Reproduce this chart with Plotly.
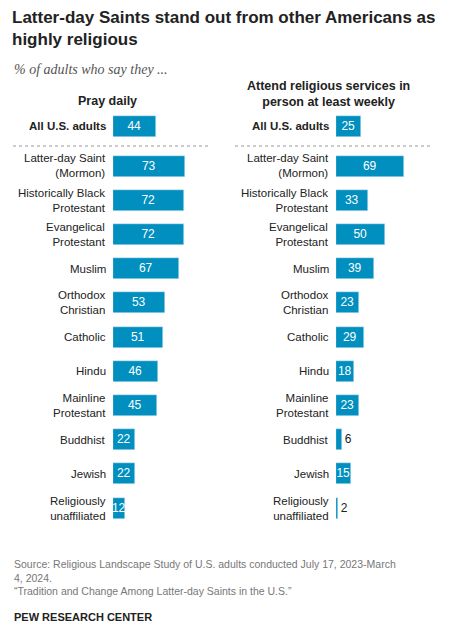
import plotly.graph_objects as go

groups = ["All U.S. adults", "Latter-day Saint<br>(Mormon)", "Historically Black<br>Protestant",
          "Evangelical<br>Protestant", "Muslim", "Orthodox<br>Christian", "Catholic", "Hindu",
          "Mainline<br>Protestant", "Buddhist", "Jewish", "Religiously<br>unaffiliated"]
pray = [44, 73, 72, 72, 67, 53, 51, 46, 45, 22, 22, 12]
attend = [25, 69, 33, 50, 39, 23, 29, 18, 23, 6, 15, 2]

OFF = 8  # page body margin
W, H = 451 - 2 * OFF, 631 - 2 * OFF
BLUE = "#008fbf"
FONT = "Liberation Sans"
rows = [126] + [166 + 34.2 * i for i in range(len(groups) - 1)]
rows = [r - OFF for r in rows]

def px(x):
    return (x - OFF) / W

def py(y):
    return 1 - (y - OFF) / H

fig = go.Figure()
panels = [(pray, "x", "y"), (attend, "x2", "y2")]
for vals, xa, ya in panels:
    fig.add_trace(go.Bar(
        x=vals, y=rows, orientation="h", width=21, marker_color=BLUE,
        text=[str(v) for v in vals],
        textposition=["inside" if v >= 10 else "outside" for v in vals],
        textangle=0,
        insidetextanchor="middle", constraintext="none", cliponaxis=False,
        insidetextfont=dict(color="white", size=12, family=FONT),
        outsidetextfont=dict(color="#222", size=12, family=FONT),
        xaxis=xa, yaxis=ya, showlegend=False, hoverinfo="skip"))

axis_common = dict(showgrid=False, zeroline=False, showticklabels=False, fixedrange=True)
fig.update_layout(
    width=W, height=H, margin=dict(l=0, r=0, t=0, b=0),
    paper_bgcolor="white", plot_bgcolor="rgba(0,0,0,0)",
    xaxis=dict(domain=[px(113), px(211)], range=[0, 100], **axis_common),
    xaxis2=dict(domain=[px(336), px(434)], range=[0, 100], **axis_common),
    yaxis=dict(domain=[0, 1], range=[H, 0], **axis_common),
    yaxis2=dict(domain=[0, 1], range=[H, 0], anchor="x2", **axis_common),
    bargap=0,
)

ann = []
def A(text, x, y, size=11, color="#222", xanchor="left", yanchor="top", bold=False, family=FONT, align="left"):
    if bold:
        text = "<b>" + text + "</b>"
    ann.append(dict(text=text, x=px(x), y=py(y), xref="paper", yref="paper", showarrow=False,
                    xanchor=xanchor, yanchor=yanchor, align=align,
                    font=dict(size=size, color=color, family=family)))

A("Latter-day Saints stand out from other Americans as<br>highly religious", 10, 6, size=17, bold=True)
A("<i>% of adults who say they ...</i>", 12, 60, size=14, color="#555", family="Liberation Serif")
A("Pray daily", 107, 101, size=12.5, xanchor="center", yanchor="middle", bold=True)
A("Attend religious services in<br>person at least weekly", 328, 94, size=12.5, xanchor="center",
  yanchor="middle", bold=True, align="center")

for lx in (108, 331):
    for i, (g, yv) in enumerate(zip(groups, rows)):
        A(g, lx, yv + OFF, size=11.5, xanchor="right", yanchor="middle", bold=(i == 0), align="right")

A("Source: Religious Landscape Study of U.S. adults conducted July 17, 2023-March<br>4, 2024.<br>“Tradition and Change Among Latter-day Saints in the U.S.”",
  12, 556, size=10.5, color="#777")
A("PEW RESEARCH CENTER", 12, 617, size=11, bold=True, yanchor="middle")
fig.update_layout(annotations=ann)

shapes = []
for xa, xb in ((13, 210), (235, 432)):
    shapes.append(dict(type="line", xref="paper", yref="paper", x0=px(xa), x1=px(xb),
                       y0=py(146), y1=py(146), line=dict(color="#999", width=1, dash="dot")))
fig.update_layout(shapes=shapes)

fig.write_html("out.html")
